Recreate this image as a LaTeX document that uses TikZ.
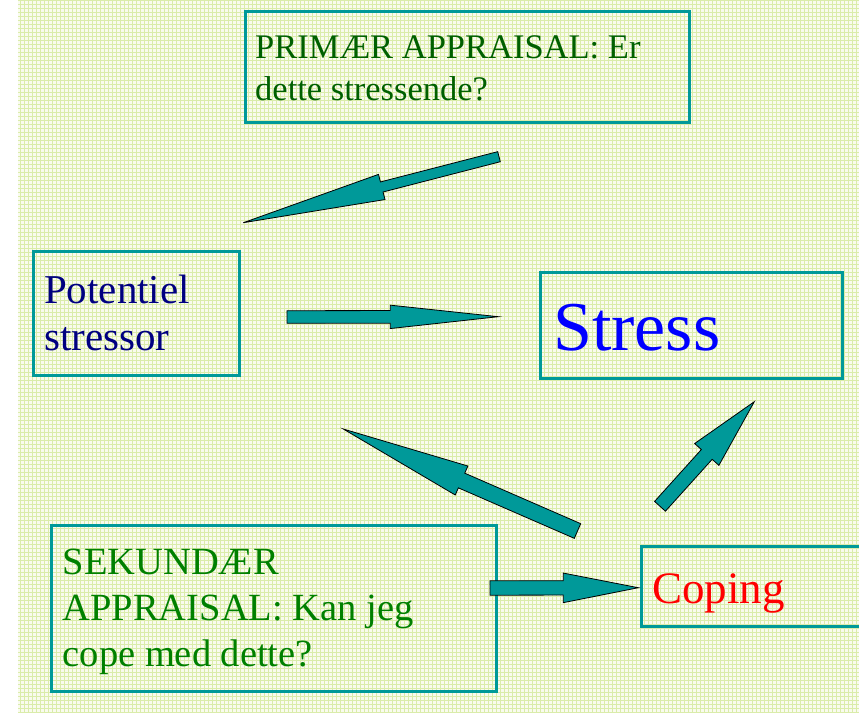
\documentclass[tikz,border=0pt]{standalone}
\usepackage{fontspec}
\setmainfont{Liberation Serif}
\usetikzlibrary{calc}
\definecolor{tealbox}{RGB}{0,153,153}
\definecolor{primgreen}{RGB}{0,96,0}
\definecolor{sekgreen}{RGB}{0,128,0}
\definecolor{potnavy}{RGB}{0,0,128}
\definecolor{stressblue}{RGB}{0,0,255}
\definecolor{copingred}{RGB}{255,0,0}
\definecolor{bgbase}{RGB}{249,251,238}
\definecolor{bggrid}{RGB}{218,236,170}
\tikzset{
  box/.style={draw=tealbox, line width=3pt, inner sep=0pt, rectangle},
  txt/.style={inner sep=0pt, anchor=base west, align=left},
  blockarr/.style={fill=tealbox, draw=black, line width=0.8pt, line join=miter},
}
\newcommand\blockarrow[5]{% tail, tip, shaft half-width, head half-width, head length
  \path ($(#2)!#5!(#1)$) coordinate (bahead);
  \draw[blockarr] ($(#1)!#3!90:(#2)$) -- ($(bahead)!#3!90:(#2)$) -- ($(bahead)!#4!90:(#2)$)
    -- (#2) -- ($(bahead)!#4!-90:(#2)$) -- ($(bahead)!#3!-90:(#2)$) -- ($(#1)!#3!-90:(#2)$) -- cycle;
}
\begin{document}
\begin{tikzpicture}[x=1pt,y=-1pt]
\clip (0,0) rectangle (859,712);
\fill[white] (0,0) rectangle (859,712);
\fill[bgbase] (18,0) rectangle (859,712);
\draw[bggrid, line width=0.6pt, step=4pt] (18,0) grid (859,712);

% boxes
\node[box, minimum width=444.7pt, minimum height=111pt] (prim) at (467.35,67.2) {};
\node[box, minimum width=206.5pt, minimum height=124pt] (pot) at (136.25,313) {};
\node[box, minimum width=302pt, minimum height=106pt] (stress) at (691,325) {};
\node[box, minimum width=444.7pt, minimum height=165.7pt] (sek) at (273.65,608.15) {};
\node[box, minimum width=238.7pt, minimum height=80pt] (coping) at (760.65,586.3) {};

% texts (base anchor = baseline of last line)
\node[txt, text=primgreen, font=\fontsize{34.5}{41.7}\selectfont] (primT) at (255,100)
  {PRIMÆR APPRAISAL: Er\\dette stressende?};
\node[txt, text=potnavy, font=\fontsize{41}{47}\selectfont] (potT) at (44,350)
  {Potentiel\\stressor};
\node[txt, text=stressblue, font=\fontsize{70}{84}\selectfont] (stressT) at (553,350) {Stress};
\node[txt, text=sekgreen, font=\fontsize{38.5}{46}\selectfont] (sekT) at (62.5,666.7)
  {SEKUNDÆR\\APPRAISAL: Kan jeg\\cope med dette?};
\node[txt, text=copingred, font=\fontsize{45}{54}\selectfont] (copT) at (652,603) {Coping};

% arrow end points
\coordinate (a1t) at (499,156.7);   \coordinate (a1h) at (243.3,222.7);
\coordinate (a2t) at (287,317);     \coordinate (a2h) at (498.3,316.7);
\coordinate (a3t) at (577.5,531);   \coordinate (a3h) at (343.3,429);
\coordinate (a4t) at (660,506.3);   \coordinate (a4h) at (754.3,401.7);
\coordinate (a5t) at (490,588);     \coordinate (a5h) at (638.3,587.7);

\blockarrow{a1t}{a1h}{5.2pt}{13pt}{143pt}
\blockarrow{a2t}{a2h}{6.3pt}{11.7pt}{108pt}
\blockarrow{a3t}{a3h}{8pt}{15.8pt}{129pt}
\blockarrow{a4t}{a4h}{7.3pt}{16.3pt}{71pt}
\blockarrow{a5t}{a5h}{7.2pt}{14.8pt}{75pt}
\end{tikzpicture}
\end{document}
